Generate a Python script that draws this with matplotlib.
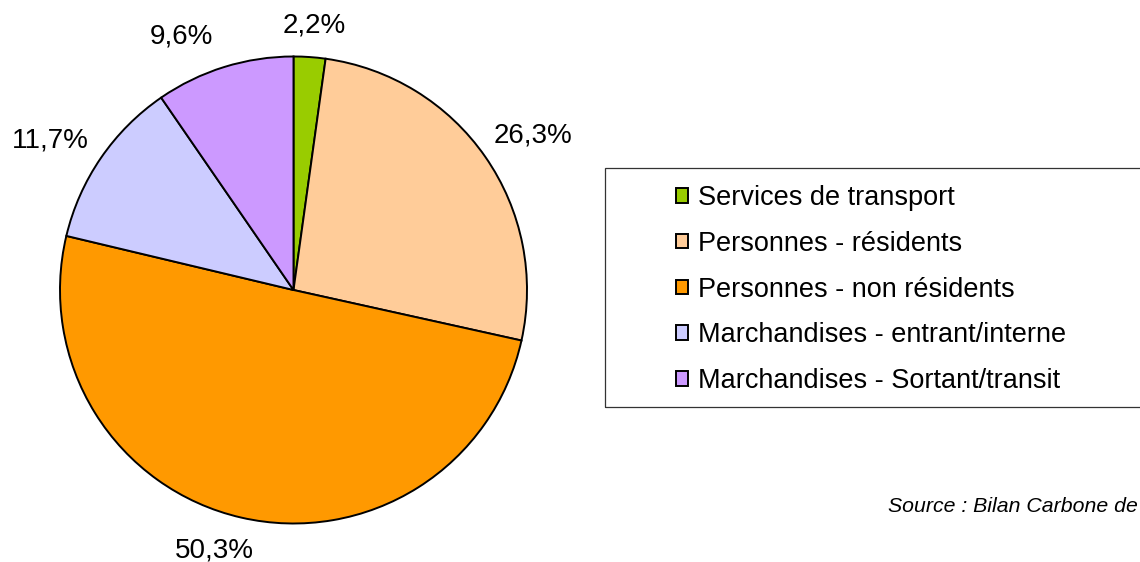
import numpy as np
import matplotlib
matplotlib.use("Agg")
import matplotlib.pyplot as plt
from matplotlib.patches import Rectangle

plt.rcParams['font.family'] = ['Liberation Sans', 'DejaVu Sans']

categories = ["Services de transport", "Personnes - résidents", "Personnes - non résidents",
              "Marchandises - entrant/interne", "Marchandises - Sortant/transit"]
values = [2.2, 26.3, 50.3, 11.7, 9.6]
value_labels = ["2,2%", "26,3%", "50,3%", "11,7%", "9,6%"]
colors = ["#99CC00", "#FFCC99", "#FF9900", "#CCCCFF", "#CC99FF"]
# label placement style: distance (in radii) and angular nudge (degrees)
label_dist = [1.147, 1.229, 1.156, 1.229, 1.197]
label_nudge = [-0.4, -1.4, -4.15, 2.4, 6.3]
source = "Source : Bilan Carbone de"

W, H = 1140, 562
fig = plt.figure(figsize=(W / 100, H / 100), dpi=100)
ax = fig.add_axes([0, 0, 1, 1])

cx, cy, R = 293.5, H - 290, 233.5
wedges, _ = ax.pie(values, colors=colors, startangle=90, counterclock=False,
                   center=(cx, cy), radius=R, frame=True,
                   wedgeprops=dict(edgecolor='black', linewidth=1.4))
ax.set_xlim(0, W)
ax.set_ylim(0, H)
ax.axis('off')

total = sum(values)
cum = 0
for v, lab, d, n in zip(values, value_labels, label_dist, label_nudge):
    mid = 90 - (cum + v / 2) / total * 360 + n
    cum += v
    a = np.deg2rad(mid)
    ax.text(cx + d * R * np.cos(a), cy + d * R * np.sin(a), lab,
            ha='center', va='center_baseline', fontsize=20, color='black')

ax.add_patch(Rectangle((605, H - 407), 600, 239, facecolor='none',
                       edgecolor='#333333', linewidth=0.9, clip_on=False))

leg = ax.legend(wedges, categories, loc='upper left',
                bbox_to_anchor=(676, H - 185), bbox_transform=ax.transData,
                frameon=False, fontsize=19.5, handlelength=0.45, handleheight=0.45,
                handletextpad=0.35, labelspacing=0.73, borderpad=0, borderaxespad=0)

ax.text(888, H - 506, source, ha='left', va='center', fontsize=15.3,
        style='italic', color='black')

fig.savefig("out.png", dpi=100)
